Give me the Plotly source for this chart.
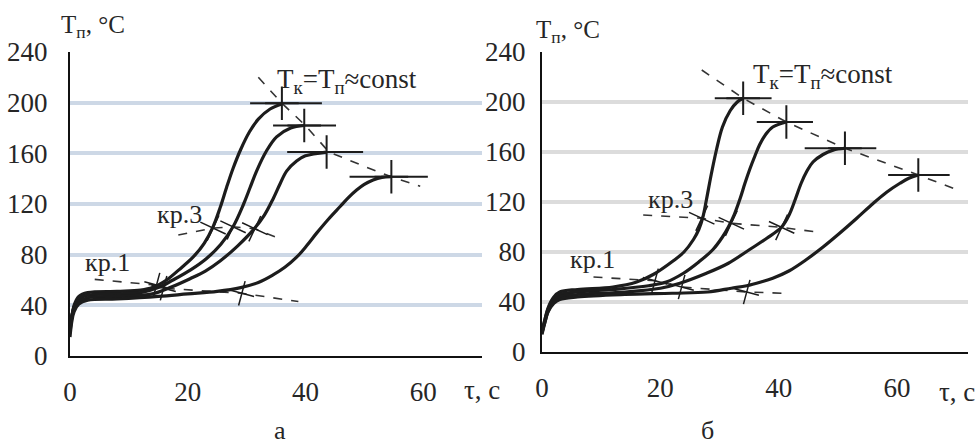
import plotly.graph_objects as go

# ---------------- data: panel "а" ----------------
A1_t = [0, 0.3, 0.7, 1.5, 3, 8, 12, 14, 16.4, 18.5, 20.9, 22.8, 24.3, 25.5, 26.6, 27.7, 29, 30.5, 32, 34, 36]
A1_T = [18, 30, 40, 47, 50, 51, 52, 54, 60, 68, 78, 89, 102, 117, 133, 148, 163, 177, 187, 195, 199]
A2_t = [0, 0.3, 0.7, 1.5, 3, 8, 12, 15, 17.5, 20.5, 23.2, 25.6, 27.7, 29.5, 30.6, 31.7, 33.4, 35.1, 37.5, 39.8]
A2_T = [20, 31, 39, 45, 48, 49, 50, 54, 60, 68, 77, 88, 102, 120, 133, 146, 162, 173, 180, 182]
A3_t = [0, 0.3, 0.7, 1.5, 3, 8, 14, 17, 20.4, 23, 25.5, 28.5, 31.4, 33, 34.5, 35.7, 36.8, 38.5, 40, 43.6]
A3_T = [22, 32, 38, 43, 46, 47, 49, 54, 61, 67, 75, 87, 101, 111, 124, 136, 146, 154, 158, 161]
A4_t = [0, 0.3, 0.7, 1.5, 3, 8, 15, 20, 25, 29, 32, 34.5, 36.5, 38.5, 40.2, 41.9, 43.9, 45.9, 47.3, 48.7, 50, 51.5, 53, 54.6]
A4_T = [15, 27, 35, 41, 44, 45, 47, 49, 51, 54, 58, 64, 70, 78, 87, 97, 108, 118, 125, 131, 135.5, 139, 141, 141.5]

A_peak_t = [36, 39.8, 43.6, 54.6]
A_peak_T = [199.5, 182, 161, 141.5]
A_flat_t0 = [30.6, 34.5, 36.9, 47.5]
A_flat_t1 = [42.8, 45.2, 49.8, 60.8]
A_const_t = [32, 36, 40, 44, 50.4, 54.6, 59.5]
A_const_T = [220, 199.5, 182, 161, 149, 141.5, 134]
A_kr3_t = [18.4, 24.3, 27.7, 31.4, 35.4]
A_kr3_T = [95.5, 101, 102, 100.5, 93]
A_kr3x_t = [24.3, 27.7, 31.4]
A_kr3x_T = [101, 102, 100.5]
A_kr1_t = [4.2, 14.7, 15.9, 29.2, 38.8]
A_kr1_T = [60.5, 56, 53.5, 49.5, 43]
A_kr1x_t = [14.7, 15.9, 29.2]
A_kr1x_T = [56, 53.5, 49.5]

# ---------------- data: panel "б" ----------------
B1_t = [0, 0.5, 1, 2, 3, 6, 12, 16, 18.8, 22.2, 24, 25.6, 26.5, 27.2, 27.8, 28.6, 29.5, 30.5, 31.8, 33, 34]
B1_T = [15, 26, 35, 44, 48, 50, 52, 56, 62, 73, 80, 90, 98, 108, 122, 142, 162, 180, 193, 200, 203]
B2_t = [0, 0.5, 1, 2, 3, 6, 12, 18, 21, 23.9, 26.5, 28.9, 30.5, 31.5, 32.5, 33.5, 34.3, 35.1, 36, 36.8, 37.8, 39, 41.3]
B2_T = [17, 26, 34, 43, 46, 48, 50, 53, 56, 63, 72, 82, 92, 100, 110, 123, 135, 146, 157, 166, 174, 180, 184]
B3_t = [0, 0.5, 1, 2, 3, 6, 14, 20, 23.3, 27.8, 31.5, 35.1, 38, 40.5, 41.8, 42.8, 43.8, 44.8, 45.8, 47.5, 49.2, 51.2]
B3_T = [14, 24, 32, 41, 44, 46, 48, 51, 55, 63, 71, 82, 91, 100, 110, 122, 135, 145, 152, 158, 161.5, 163]
B4_t = [0, 0.5, 1, 2, 3, 6, 14, 22, 28, 32, 34.6, 37, 39, 41.8, 44.7, 47.5, 50.3, 53.2, 56, 58.3, 60.5, 62, 63.6]
B4_T = [16, 24, 32, 39, 42, 44, 46, 47, 48, 51, 53, 56, 59, 65, 74, 84, 95, 107, 119, 128, 135, 139, 141.6]

B_peak_t = [34, 41.3, 51.2, 63.6]
B_peak_T = [203, 184, 163, 141.6]
B_flat_t0 = [29.2, 36.3, 44.4, 58.5]
B_flat_t1 = [38.8, 45.8, 56.5, 68.9]
B_const_t = [27, 34, 41.3, 51.2, 63.6, 69.5]
B_const_T = [225.6, 203, 184, 163, 141.6, 131]
B_kr3_t = [17.1, 27, 32, 40.5, 46.4]
B_kr3_T = [109.6, 107, 103, 99.7, 96]
B_kr3x_t = [27, 32, 40.5]
B_kr3x_T = [107, 103, 99.7]
B_kr1_t = [8.7, 19.1, 23.6, 34.6, 40.8]
B_kr1_T = [60, 57, 52, 48, 47]
B_kr1x_t = [19.1, 23.6, 34.6]
B_kr1x_T = [57, 52, 48]

Y_TICKS = [0, 40, 80, 120, 160, 200, 240]
X_TICKS = [0, 20, 40, 60]

FONT = "Liberation Serif"
INK = "#1c1c1c"
TXT = "#262626"

fig = go.Figure()


def add_panel(xa, ya, curves, peak_t, peak_T, f0, f1, const_t, const_T,
              kr3_t, kr3_T, kr3x_t, kr3x_T, kr1_t, kr1_T, kr1x_t, kr1x_T):
    common = dict(xaxis=xa, yaxis=ya, showlegend=False, hoverinfo="skip")
    for tt, TT in [(const_t, const_T), (kr3_t, kr3_T), (kr1_t, kr1_T)]:
        fig.add_trace(go.Scatter(x=tt, y=TT, mode="lines",
                                 line=dict(color="#333", width=1.6, dash="dash"), **common))
    for a, b, T in zip(f0, f1, peak_T):
        fig.add_trace(go.Scatter(x=[a, b], y=[T, T], mode="lines",
                                 line=dict(color=INK, width=2), **common))
    for tt, TT in curves:
        fig.add_trace(go.Scatter(x=tt, y=TT, mode="lines",
                                 line=dict(color=INK, width=3.2, shape="spline", smoothing=1.0),
                                 **common))
    fig.add_trace(go.Scatter(x=peak_t, y=peak_T, mode="markers",
                             marker=dict(symbol="cross-thin", size=24,
                                         line=dict(color=INK, width=2)), **common))
    fig.add_trace(go.Scatter(x=kr3x_t, y=kr3x_T, mode="markers",
                             marker=dict(symbol="cross-thin", size=20, angle=25,
                                         line=dict(color=INK, width=1.5)), **common))
    fig.add_trace(go.Scatter(x=kr1x_t, y=kr1x_T, mode="markers",
                             marker=dict(symbol="cross-thin", size=18, angle=15,
                                         line=dict(color=INK, width=1.5)), **common))


add_panel("x", "y",
          [(A1_t, A1_T), (A2_t, A2_T), (A3_t, A3_T), (A4_t, A4_T)],
          A_peak_t, A_peak_T, A_flat_t0, A_flat_t1, A_const_t, A_const_T,
          A_kr3_t, A_kr3_T, A_kr3x_t, A_kr3x_T, A_kr1_t, A_kr1_T, A_kr1x_t, A_kr1x_T)
add_panel("x2", "y2",
          [(B1_t, B1_T), (B2_t, B2_T), (B3_t, B3_T), (B4_t, B4_T)],
          B_peak_t, B_peak_T, B_flat_t0, B_flat_t1, B_const_t, B_const_T,
          B_kr3_t, B_kr3_T, B_kr3x_t, B_kr3x_T, B_kr1_t, B_kr1_T, B_kr1x_t, B_kr1x_T)

W, H = 979, 448
tickfont = dict(family=FONT, size=27, color=TXT)


def xax(domain, rng, anchor):
    return dict(domain=domain, range=rng, anchor=anchor, tickvals=X_TICKS,
                showgrid=False, zeroline=False, showline=True, linecolor="#111",
                linewidth=2, ticks="", tickfont=tickfont, ticklabelstandoff=11,
                automargin=False)


def yax(domain, anchor, gridcolor, standoff):
    return dict(domain=domain, range=[0, 240], anchor=anchor, tickvals=Y_TICKS,
                showgrid=True, gridcolor=gridcolor, gridwidth=4, zeroline=False,
                showline=True, linecolor="#111", linewidth=2, ticks="",
                tickfont=tickfont, ticklabelstandoff=standoff, automargin=False)


fig.update_layout(
    width=W, height=H, margin=dict(l=0, r=0, t=0, b=0, pad=0), autosize=False,
    paper_bgcolor="white", plot_bgcolor="white",
    font=dict(family=FONT, color=TXT),
    xaxis=xax([70 / W, 482 / W], [0, 70], "y"),
    yaxis=yax([1 - 356 / H, 1 - 52 / H], "x", "#cdd8e6", 15),
    xaxis2=xax([542 / W, 968 / W], [0, 72], "y2"),
    yaxis2=yax([1 - 352 / H, 1 - 52 / H], "x2", "#dcdcdc", 9),
)


def note(px, py, text, size=27):
    fig.add_annotation(x=px / W, y=1 - py / H, xref="paper", yref="paper",
                       text=text, showarrow=False, xanchor="center", yanchor="middle",
                       font=dict(family=FONT, size=size, color=TXT))


note(93, 27, "T<sub>п</sub>, °C", 25)
note(568, 32, "T<sub>п</sub>, °C", 25)
note(347, 81, "T<sub>к</sub>=T<sub>п</sub>≈const", 27)
note(823, 76, "T<sub>к</sub>=T<sub>п</sub>≈const", 27)
note(179, 214, "кр.3", 26)
note(107, 262, "кр.1", 26)
note(670, 199, "кр.3", 26)
note(592, 259, "кр.1", 26)
note(482, 390, "τ, с", 27)
note(957, 392, "τ, с", 27)
note(280, 430, "а", 26)
note(707, 430, "б", 26)

fig.write_html("out.html", post_script="document.body.style.margin='0px';",
               config={"displayModeBar": False})
